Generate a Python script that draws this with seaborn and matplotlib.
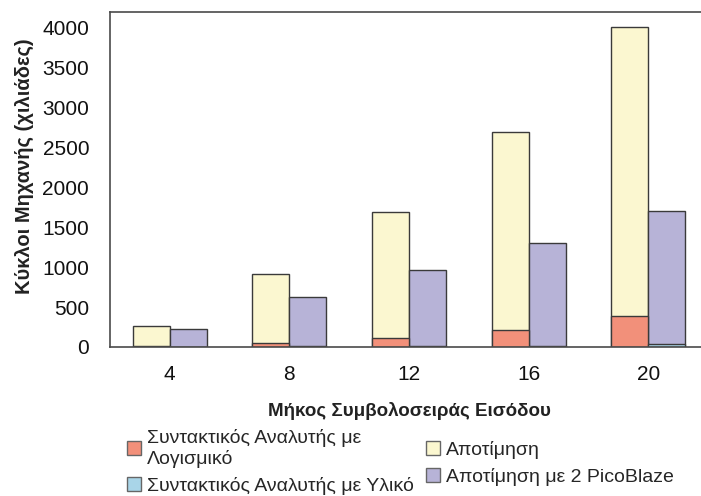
import matplotlib
matplotlib.use("Agg")
import matplotlib.pyplot as plt
from matplotlib.patches import Patch
import seaborn as sns
import pandas as pd

# Input string lengths (categories)
lengths = ["4", "8", "12", "16", "20"]

# Machine cycles (thousands), stacked components
sw_parser = [15, 50, 118, 218, 386]          # software parser
sw_eval = [245, 860, 1580, 2475, 3620]       # evaluation
hw_parser = [5, 8, 10, 12, 38]               # hardware parser
hw_eval = [217, 620, 953, 1295, 1671]        # evaluation with 2 PicoBlaze

label_sw_parser = "Συντακτικός Αναλυτής με\nΛογισμικό"
label_hw_parser = "Συντακτικός Αναλυτής με Υλικό"
label_sw_eval = "Αποτίμηση"
label_hw_eval = "Αποτίμηση με 2 PicoBlaze"

c_red = "#F2907A"
c_yellow = "#FBF7D0"
c_blue = "#A9D5E8"
c_purple = "#B7B3D7"
edge = "#3a3a3a"

sns.set_theme(style="white")
plt.rcParams["font.family"] = ["Liberation Sans", "DejaVu Sans"]

rows = []
for i, L in enumerate(lengths):
    rows.append({"len": L, "kind": "sw", "base": sw_parser[i], "total": sw_parser[i] + sw_eval[i]})
    rows.append({"len": L, "kind": "hw", "base": hw_parser[i], "total": hw_parser[i] + hw_eval[i]})
df = pd.DataFrame(rows)

fig = plt.figure(figsize=(7.01, 4.96), dpi=100)
ax = fig.add_axes([110 / 701, 1 - 347 / 496, 598 / 701, 335 / 496])

kw = dict(data=df, x="len", hue="kind", hue_order=["sw", "hw"], order=lengths,
          width=0.62, edgecolor=edge, linewidth=1.0, legend=False, ax=ax,
          saturation=1, errorbar=None)
sns.barplot(y="total", palette={"sw": c_yellow, "hw": c_purple}, **kw)
sns.barplot(y="base", palette={"sw": c_red, "hw": c_blue}, **kw)

ax.set_xlim(-0.5, 4.5)
ax.set_ylim(0, 4200)
ax.set_yticks(range(0, 4001, 500))
ax.set_xticks(range(len(lengths)))
ax.set_xticklabels(lengths)
ax.set_xticks([i - 0.5 for i in range(len(lengths) + 1)], minor=True)
ax.tick_params(axis="x", which="major", length=0, pad=13, labelsize=15, labelcolor="#111111")
ax.tick_params(axis="x", which="minor", length=6, width=1, color="#555555", direction="out")
ax.tick_params(axis="y", length=6, width=1, color="#555555", direction="out", labelsize=15,
               labelcolor="#111111", pad=9)

for side in ["left", "top", "bottom"]:
    ax.spines[side].set_visible(True)
    ax.spines[side].set_color("#4a4a4a")
    ax.spines[side].set_linewidth(1.2)
ax.spines["right"].set_visible(False)

ax.set_xlabel("Μήκος Συμβολοσειράς Εισόδου", fontsize=13.5, fontweight="bold", color="#222222")
ax.xaxis.set_label_coords(0.5, -0.165)
ax.set_ylabel("Κύκλοι Μηχανής (χιλιάδες)", fontsize=14.5, fontweight="bold", color="#222222")
ax.yaxis.set_label_coords(-0.127, 0.54)

handles = [
    Patch(facecolor=c_red, edgecolor="#666666", label=label_sw_parser),
    Patch(facecolor=c_blue, edgecolor="#666666", label=label_hw_parser),
    Patch(facecolor=c_yellow, edgecolor="#666666", label=label_sw_eval),
    Patch(facecolor=c_purple, edgecolor="#666666", label=label_hw_eval),
]
fig.legend(handles=handles, ncol=2, loc="lower left", bbox_to_anchor=(113 / 701, -0.025),
           frameon=False, fontsize=14, handlelength=0.75, handleheight=0.75,
           handletextpad=0.3, columnspacing=0.6, labelspacing=0.45, borderpad=0.2)

fig.savefig("out.png", dpi=100)
